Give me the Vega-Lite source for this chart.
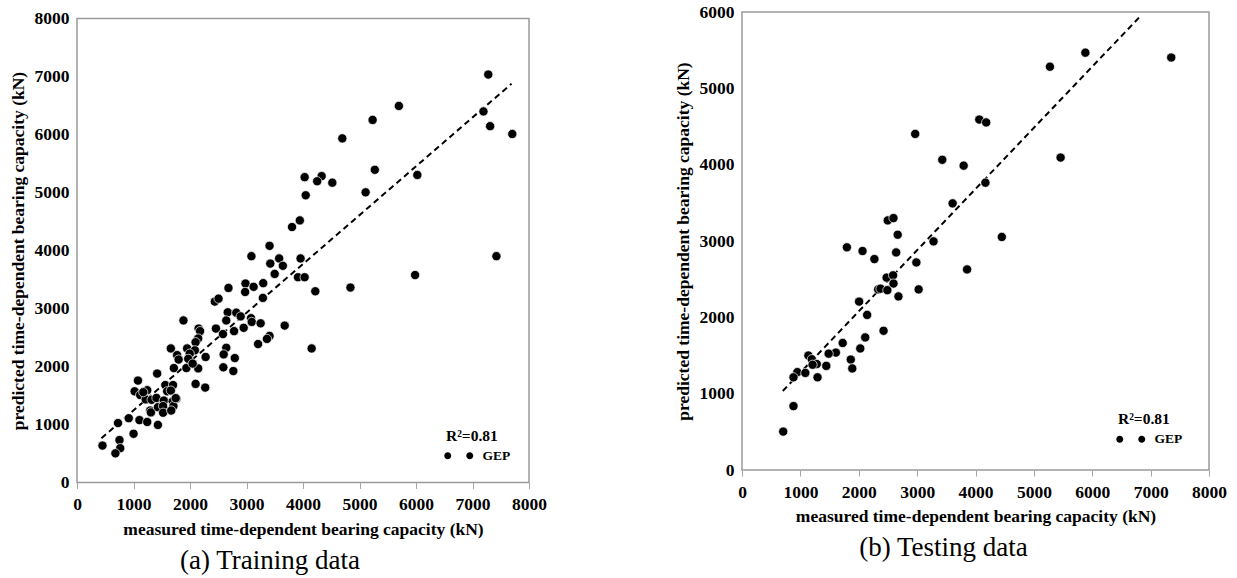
{
  "$schema": "https://vega.github.io/schema/vega-lite/v6.json",
  "background": "white",
  "padding": {"left": 8, "top": 2, "right": 5, "bottom": 0},
  "config": {
    "font": "Liberation Serif",
    "view": {"stroke": "#9a9a9a", "strokeWidth": 1.5},
    "axis": {
      "grid": false, "domain": false,
      "labelFont": "Liberation Serif", "labelFontSize": 17.5, "labelFontWeight": "bold", "labelColor": "black",
      "labelFlush": false, "labelOverlap": false, "format": "d",
      "titleFont": "Liberation Serif", "titleFontSize": 17.5, "titleFontWeight": "bold", "titleColor": "black",
      "tickColor": "#a6a6a6", "tickWidth": 1
    }
  },
  "datasets": {
    "train": [
      {"m":7279,"p":7034},{"m":5697,"p":6493},{"m":5232,"p":6251},{"m":7194,"p":6397},{"m":7312,"p":6143},
      {"m":7704,"p":6009},{"m":4696,"p":5933},{"m":5271,"p":5391},{"m":6024,"p":5302},{"m":4029,"p":5264},
      {"m":4330,"p":5283},{"m":4251,"p":5194},{"m":4519,"p":5169},{"m":5108,"p":5003},{"m":4048,"p":4952},
      {"m":3944,"p":4519},{"m":3806,"p":4405},{"m":3408,"p":4080},{"m":3087,"p":3902},{"m":7423,"p":3902},
      {"m":3578,"p":3863},{"m":3957,"p":3863},{"m":3421,"p":3775},{"m":3643,"p":3736},{"m":3499,"p":3596},
      {"m":5984,"p":3577},{"m":3911,"p":3539},{"m":4029,"p":3539},{"m":4840,"p":3361},{"m":2982,"p":3431},
      {"m":3126,"p":3374},{"m":3296,"p":3437},{"m":2681,"p":3354},{"m":2976,"p":3285},{"m":4218,"p":3297},
      {"m":3290,"p":3183},{"m":2439,"p":3119},{"m":2505,"p":3170},{"m":2668,"p":2934},{"m":2819,"p":2928},
      {"m":2897,"p":2864},{"m":2642,"p":2794},{"m":3080,"p":2833},{"m":3093,"p":2769},{"m":3250,"p":2744},
      {"m":1884,"p":2794},{"m":3676,"p":2705},{"m":2950,"p":2667},{"m":2459,"p":2654},{"m":2780,"p":2610},
      {"m":2583,"p":2559},{"m":2152,"p":2654},{"m":2178,"p":2610},{"m":3408,"p":2527},{"m":3362,"p":2476},
      {"m":2145,"p":2483},{"m":2099,"p":2419},{"m":3205,"p":2387},{"m":4153,"p":2311},{"m":2642,"p":2323},
      {"m":1661,"p":2311},{"m":1949,"p":2311},{"m":2086,"p":2279},{"m":1995,"p":2222},{"m":1772,"p":2196},
      {"m":2596,"p":2209},{"m":2276,"p":2164},{"m":2793,"p":2145},{"m":1969,"p":2132},{"m":1799,"p":2120},
      {"m":1714,"p":1973},{"m":1936,"p":1973},{"m":2145,"p":1967},{"m":2590,"p":1986},{"m":2047,"p":2050},
      {"m":2767,"p":1922},{"m":2099,"p":1700},{"m":2269,"p":1636},{"m":1079,"p":1757},{"m":1419,"p":1878},
      {"m":1020,"p":1572},{"m":1243,"p":1591},{"m":1563,"p":1680},{"m":1700,"p":1680},{"m":1596,"p":1572},
      {"m":1661,"p":1585},{"m":1118,"p":1509},{"m":1216,"p":1432},{"m":1321,"p":1426},{"m":1406,"p":1458},
      {"m":1537,"p":1413},{"m":1759,"p":1445},{"m":1694,"p":1400},{"m":1295,"p":1241},{"m":1308,"p":1209},
      {"m":1432,"p":1299},{"m":1524,"p":1318},{"m":1707,"p":1318},{"m":1524,"p":1203},{"m":1668,"p":1241},
      {"m":916,"p":1108},{"m":1105,"p":1076},{"m":726,"p":1025},{"m":1243,"p":1044},{"m":1432,"p":993},
      {"m":1001,"p":840},{"m":451,"p":637},{"m":752,"p":732},{"m":765,"p":592},{"m":680,"p":503},
      {"m":1173,"p":1557},{"m":1747,"p":1454}
    ],
    "test": [
      {"m":7353,"p":5404},{"m":5882,"p":5467},{"m":5275,"p":5283},{"m":4065,"p":4591},{"m":4183,"p":4553},
      {"m":2967,"p":4403},{"m":3431,"p":4064},{"m":5458,"p":4093},{"m":3797,"p":3987},{"m":4170,"p":3764},
      {"m":3608,"p":3493},{"m":2497,"p":3270},{"m":2595,"p":3300},{"m":2667,"p":3082},{"m":4451,"p":3053},
      {"m":3281,"p":2995},{"m":1797,"p":2917},{"m":2065,"p":2869},{"m":2641,"p":2850},{"m":2268,"p":2763},
      {"m":2987,"p":2719},{"m":3856,"p":2627},{"m":2477,"p":2520},{"m":2588,"p":2550},{"m":2595,"p":2443},
      {"m":2333,"p":2366},{"m":2373,"p":2375},{"m":2490,"p":2356},{"m":3026,"p":2366},{"m":2680,"p":2274},
      {"m":2006,"p":2206},{"m":2144,"p":2032},{"m":2425,"p":1824},{"m":2111,"p":1737},{"m":1725,"p":1664},
      {"m":2026,"p":1592},{"m":1608,"p":1538},{"m":1484,"p":1524},{"m":1137,"p":1500},{"m":1196,"p":1451},
      {"m":1863,"p":1447},{"m":1281,"p":1388},{"m":1209,"p":1379},{"m":1444,"p":1364},{"m":1889,"p":1330},
      {"m":948,"p":1282},{"m":1085,"p":1272},{"m":882,"p":1214},{"m":1294,"p":1214},{"m":882,"p":837},
      {"m":706,"p":503}
    ],
    "trainLine": [{"m":432,"p":764},{"m":7691,"p":6875}],
    "testLine": [{"m":699,"p":1035},{"m":6830,"p":5950}]
  },
  "resolve": {"scale": {"color": "independent"}, "legend": {"color": "independent"}},
  "spacing": 125,
  "hconcat": [
    {
      "spacing": -4.5,
      "resolve": {"scale": {"color": "independent"}, "legend": {"color": "independent"}},
      "vconcat": [
        {"width": 10, "height": 1, "data": {"values": []}, "mark": {"type": "point", "opacity": 0}, "encoding": {}, "view": {"stroke": null, "fill": "white"}},
        {
          "width": 452, "height": 464,
          "title": {"text": "(a) Training data", "orient": "bottom", "anchor": "middle", "frame": "group", "dx": -33, "fontSize": 27, "fontWeight": "normal", "font": "Liberation Serif", "color": "black", "offset": 10},
          "layer": [
            {
              "data": {"name": "trainLine"},
              "mark": {"type": "line", "color": "black", "strokeWidth": 2, "strokeDash": [6, 4]},
              "encoding": {
                "x": {"field": "m", "type": "quantitative", "scale": {"domain": [0, 8000], "nice": false},
                  "axis": {"title": "measured time-dependent bearing capacity (kN)", "values": [0,1000,2000,3000,4000,5000,6000,7000,8000], "tickSize": 6, "labelPadding": 7, "titlePadding": 7}},
                "y": {"field": "p", "type": "quantitative", "scale": {"domain": [0, 8000], "nice": false},
                  "axis": {"title": "predicted time-dependent bearing capacity (kN)", "values": [0,500,1000,1500,2000,2500,3000,3500,4000,4500,5000,5500,6000,6500,7000,7500,8000],
                    "labelExpr": "datum.value % 1000 === 0 ? datum.label : ''", "tickSize": -5, "labelPadding": 13, "titlePadding": 7,
                    "tickOpacity": {"condition": {"test": "datum.value % 1000 === 0", "value": 0}, "value": 1}}}
              }
            },
            {
              "data": {"name": "train"},
              "mark": {"type": "circle", "size": 85, "opacity": 1, "stroke": "white", "strokeWidth": 0.7},
              "encoding": {
                "x": {"field": "m", "type": "quantitative"},
                "y": {"field": "p", "type": "quantitative"},
                "color": {"datum": "GEP", "type": "nominal", "scale": {"range": ["black"]},
                  "legend": {"orient": "none", "legendX": 369, "legendY": 410, "title": "R²=0.81",
                    "titleFont": "Liberation Serif", "titleFontSize": 15.5, "titleFontWeight": "bold", "titleColor": "black", "titlePadding": 5,
                    "labelFont": "Liberation Serif", "labelFontSize": 13.5, "labelFontWeight": "bold", "labelColor": "black", "labelOffset": 23,
                    "symbolType": "M-1.7,0A0.7,0.7,0,1,0,-0.3,0A0.7,0.7,0,1,0,-1.7,0Z M2.7,0A0.7,0.7,0,1,0,4.1,0A0.7,0.7,0,1,0,2.7,0Z",
                    "symbolSize": 100, "symbolStrokeWidth": 0, "symbolOpacity": 1, "padding": 0}}
              }
            }
          ]
        }
      ]
    },
    {
      "width": 467, "height": 458,
      "title": {"text": "(b) Testing data", "orient": "bottom", "anchor": "middle", "frame": "group", "dx": -32, "fontSize": 27, "fontWeight": "normal", "font": "Liberation Serif", "color": "black", "offset": 10},
      "layer": [
        {
          "data": {"name": "testLine"},
          "mark": {"type": "line", "color": "black", "strokeWidth": 2, "strokeDash": [6, 4]},
          "encoding": {
            "x": {"field": "m", "type": "quantitative", "scale": {"domain": [0, 8000], "nice": false},
              "axis": {"title": "measured time-dependent bearing capacity (kN)", "values": [0,1000,2000,3000,4000,5000,6000,7000,8000], "tickSize": 6, "labelPadding": 7, "titlePadding": 7}},
            "y": {"field": "p", "type": "quantitative", "scale": {"domain": [0, 6000], "nice": false},
              "axis": {"title": "predicted time-dependent bearing capacity (kN)", "values": [0,500,1000,1500,2000,2500,3000,3500,4000,4500,5000,5500,6000],
                "labelExpr": "datum.value % 1000 === 0 ? datum.label : ''", "tickSize": -5, "labelPadding": 13, "titlePadding": 7,
                "tickOpacity": {"condition": {"test": "datum.value % 1000 === 0", "value": 0}, "value": 1}}}
          }
        },
        {
          "data": {"name": "test"},
          "mark": {"type": "circle", "size": 85, "opacity": 1, "stroke": "white", "strokeWidth": 0.7},
          "encoding": {
            "x": {"field": "m", "type": "quantitative"},
            "y": {"field": "p", "type": "quantitative"},
            "color": {"datum": "GEP", "type": "nominal", "scale": {"range": ["black"]},
              "legend": {"orient": "none", "legendX": 376, "legendY": 400, "title": "R²=0.81",
                "titleFont": "Liberation Serif", "titleFontSize": 15.5, "titleFontWeight": "bold", "titleColor": "black", "titlePadding": 5,
                "labelFont": "Liberation Serif", "labelFontSize": 13.5, "labelFontWeight": "bold", "labelColor": "black", "labelOffset": 23,
                "symbolType": "M-1.7,0A0.7,0.7,0,1,0,-0.3,0A0.7,0.7,0,1,0,-1.7,0Z M2.7,0A0.7,0.7,0,1,0,4.1,0A0.7,0.7,0,1,0,2.7,0Z",
                "symbolSize": 100, "symbolStrokeWidth": 0, "symbolOpacity": 1, "padding": 0}}
          }
        }
      ]
    }
  ]
}
